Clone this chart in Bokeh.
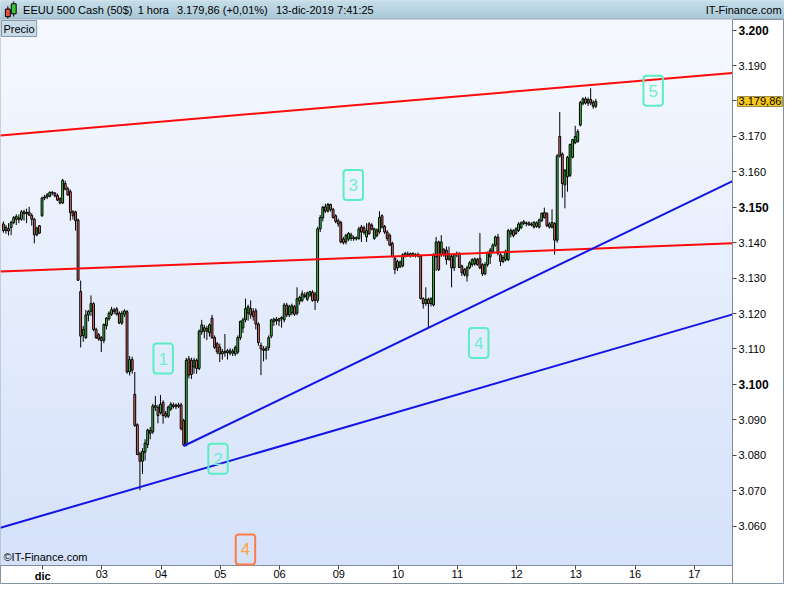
import numpy as np
from bokeh.plotting import figure
from bokeh.layouts import column
from bokeh.models import ColumnDataSource, Range1d, FixedTicker, Label, LinearAxis
from bokeh.embed import file_html
from bokeh.resources import INLINE
from bokeh.core.properties import value

# ---------------- data (hourly bars) ----------------
OPEN = [3145.3,3143.4,3144.0,3144.3,3145.7,3146.6,3147.0,3146.6,3148.7,3148.2,3148.6,3147.7,3146.6,3142.2,3144.8,
        3147.6,3152.6,3152.9,3153.1,3154.2,3154.0,3153.3,3152.4,3151.2,3156.7,3155.2,3154.4,3148.7,3148.7,3146.4,
        3126.2,3113.8,3113.2,3119.6,3120.6,3122.8,3115.5,3114.0,3113.2,3112.4,3116.6,3118.5,3119.8,3121.0,3121.3,
        3120.1,3117.3,3119.8,3120.5,3103.5,3107.0,3097.2,3088.6,3080.4,3078.3,3080.8,3083.0,3087.0,3086.6,3093.5,
        3093.5,3092.0,3094.9,3091.8,3091.0,3093.0,3094.2,3093.7,3094.2,3094.2,3089.8,3082.9,3107.2,3106.8,3104.9,
        3106.8,3104.5,3114.8,3116.0,3115.0,3114.6,3118.7,3113.2,3111.5,3110.5,3108.6,3109.3,3108.9,3109.5,3108.8,
        3108.6,3109.1,3113.2,3115.9,3118.2,3120.1,3121.4,3120.5,3120.8,3117.0,3111.0,3110.0,3109.6,3110.4,3113.6,
        3117.8,3118.4,3117.9,3118.5,3118.2,3122.4,3119.6,3120.2,3121.9,3120.1,3123.5,3123.7,3125.2,3124.0,3125.2,
        3126.0,3125.5,3123.7,3143.9,3147.0,3150.1,3148.9,3150.8,3149.4,3147.6,3146.2,3145.7,3141.0,3140.2,3141.0,
        3141.2,3141.4,3141.1,3141.2,3144.4,3144.2,3141.6,3145.3,3145.0,3141.2,3143.6,3143.0,3147.6,3144.6,3143.0,
        3142.1,3139.8,3135.6,3132.9,3134.5,3133.4,3136.1,3136.8,3136.4,3136.9,3136.3,3136.7,3136.2,3124.2,3122.8,
        3124.0,3122.8,3122.4,3136.0,3140.2,3136.6,3138.0,3137.9,3135.2,3136.1,3132.9,3136.6,3137.0,3133.4,3132.4,
        3130.6,3132.9,3133.8,3134.0,3135.2,3135.6,3133.8,3131.2,3133.8,3136.0,3137.5,3139.3,3141.6,3136.6,3134.7,
        3135.2,3135.2,3142.5,3143.4,3142.6,3143.4,3144.2,3145.9,3145.4,3145.6,3145.0,3144.4,3145.6,3144.4,3146.2,
        3148.5,3148.2,3145.3,3144.4,3145.4,3140.7,3170.0,3165.0,3156.3,3158.6,3159.0,3164.1,3168.2,3168.6,3173.2,
        3179.2,3180.6,3179.4,3180.4,3179.6,3178.5]
HIGH = [3146.0,3145.0,3145.5,3146.2,3147.5,3148.0,3148.0,3149.2,3149.3,3149.6,3150.1,3148.3,3147.0,3144.5,3145.0,
        3153.0,3153.5,3154.0,3154.5,3154.6,3154.3,3153.8,3152.8,3158.0,3157.5,3155.8,3155.0,3149.2,3149.0,3146.8,
        3129.3,3116.5,3121.0,3121.0,3125.1,3123.2,3116.0,3114.5,3113.6,3117.2,3119.0,3120.6,3121.9,3121.6,3121.8,
        3120.6,3120.8,3121.2,3121.0,3108.0,3107.8,3103.5,3089.0,3081.0,3082.0,3084.5,3087.5,3088.0,3094.5,3096.7,
        3094.2,3097.0,3095.5,3092.5,3094.0,3095.0,3094.8,3094.6,3094.8,3094.8,3090.3,3107.5,3108.0,3107.5,3107.5,
        3107.3,3115.5,3118.2,3116.8,3116.5,3117.2,3119.6,3113.8,3112.0,3111.5,3110.0,3114.2,3110.0,3110.2,3110.0,
        3111.0,3113.8,3118.0,3118.8,3124.2,3122.5,3123.7,3121.5,3121.5,3117.5,3111.8,3110.8,3110.8,3113.8,3118.5,
        3118.8,3119.0,3118.8,3119.2,3123.0,3123.0,3122.5,3122.8,3122.4,3127.4,3125.0,3126.5,3126.0,3126.2,3126.4,
        3126.6,3126.2,3144.5,3147.8,3150.4,3151.0,3151.2,3151.0,3149.8,3148.0,3146.8,3146.2,3141.6,3142.5,3143.0,
        3142.8,3142.0,3141.8,3144.5,3145.0,3144.8,3145.5,3145.8,3145.5,3144.2,3144.0,3148.9,3148.0,3145.0,3143.5,
        3142.6,3140.3,3136.2,3135.2,3135.0,3137.0,3137.4,3137.5,3137.2,3137.3,3137.0,3137.2,3136.6,3124.6,3127.4,
        3124.5,3124.6,3137.0,3141.6,3140.6,3142.1,3138.5,3138.9,3138.9,3136.6,3137.0,3137.5,3137.3,3133.8,3132.8,
        3133.5,3134.8,3135.6,3135.8,3135.7,3142.7,3134.2,3134.5,3137.5,3138.5,3139.8,3142.0,3142.5,3137.0,3136.5,
        3138.0,3143.9,3144.0,3143.8,3144.4,3145.8,3146.0,3146.4,3146.0,3146.0,3145.8,3146.0,3146.0,3146.8,3148.5,
        3149.9,3148.6,3145.8,3149.4,3145.8,3165.0,3176.9,3165.5,3160.8,3164.5,3168.0,3169.3,3173.0,3172.0,3180.0,
        3181.0,3181.2,3181.0,3183.6,3180.2,3180.6]
LOW = [3142.8,3142.5,3142.0,3142.1,3145.2,3145.0,3145.5,3146.2,3146.2,3145.5,3147.5,3144.8,3139.8,3141.8,3142.5,
       3147.3,3152.0,3152.3,3152.8,3153.4,3152.8,3151.8,3150.8,3150.9,3154.8,3153.2,3146.2,3146.5,3143.4,3129.2,
       3110.4,3112.0,3112.8,3117.8,3119.3,3115.0,3112.8,3112.3,3109.1,3111.6,3115.5,3118.0,3119.3,3119.8,3119.4,
       3117.0,3116.8,3119.0,3103.0,3102.5,3103.0,3088.0,3080.0,3070.1,3074.7,3078.5,3082.0,3084.5,3086.0,3092.5,
       3089.0,3091.5,3088.9,3090.5,3090.5,3092.5,3093.2,3093.0,3093.3,3087.0,3082.5,3082.5,3101.7,3101.5,3103.0,
       3103.0,3104.0,3114.0,3113.0,3112.5,3113.5,3112.8,3110.0,3108.5,3106.3,3107.0,3107.8,3107.0,3108.2,3108.0,
       3108.0,3108.5,3112.5,3114.5,3117.5,3118.0,3118.5,3118.0,3115.5,3110.9,3102.6,3106.5,3107.0,3109.5,3113.0,
       3116.5,3116.8,3116.5,3116.0,3117.5,3119.0,3119.0,3119.5,3119.3,3119.5,3122.5,3123.2,3124.3,3123.5,3124.6,
       3123.3,3121.0,3123.0,3143.0,3146.0,3148.4,3148.5,3148.8,3146.8,3145.5,3144.5,3139.8,3139.5,3139.5,3140.5,
       3140.5,3140.5,3140.6,3140.8,3140.2,3142.2,3140.2,3142.2,3143.5,3140.8,3141.5,3142.5,3144.0,3142.5,3140.5,
       3139.0,3135.8,3131.1,3132.0,3132.8,3133.0,3135.8,3136.0,3135.8,3136.0,3135.8,3135.9,3124.0,3121.4,3122.2,
       3115.9,3122.0,3122.0,3132.0,3132.0,3136.0,3136.0,3133.8,3135.0,3127.4,3132.0,3135.9,3132.8,3130.6,3130.5,
       3129.0,3132.5,3133.2,3133.5,3133.5,3132.5,3130.6,3130.8,3133.2,3134.0,3137.0,3138.8,3136.4,3133.4,3134.2,
       3134.7,3134.8,3141.5,3141.5,3142.2,3143.0,3143.8,3145.0,3144.6,3144.8,3144.6,3144.0,3144.2,3144.0,3145.8,
       3146.8,3144.4,3144.0,3144.0,3136.6,3140.0,3164.0,3152.7,3149.7,3154.4,3158.5,3163.8,3167.8,3168.2,3172.8,
       3178.8,3179.0,3178.6,3178.8,3177.8,3178.0]
CLOSE = [3143.4,3144.3,3143.3,3145.7,3147.1,3147.4,3146.5,3148.7,3148.2,3148.6,3147.8,3146.6,3142.2,3144.1,3142.7,
         3152.6,3152.9,3153.5,3154.2,3154.0,3153.2,3152.0,3151.2,3157.6,3155.1,3153.5,3148.5,3147.6,3146.2,3129.4,
         3113.6,3115.5,3119.6,3120.6,3122.8,3115.5,3113.2,3112.8,3112.4,3116.9,3118.7,3120.1,3121.1,3120.6,3119.8,
         3117.3,3120.1,3120.7,3103.5,3107.0,3104.0,3088.4,3080.2,3078.3,3081.1,3083.4,3087.1,3086.2,3093.9,3094.0,
         3091.2,3094.4,3091.2,3091.0,3093.6,3094.4,3093.7,3094.2,3093.8,3087.5,3082.9,3106.8,3102.6,3102.8,3106.8,
         3104.5,3115.0,3116.8,3115.0,3115.8,3116.8,3113.2,3110.4,3109.2,3108.6,3109.3,3108.9,3109.5,3108.8,3109.4,
         3110.4,3113.2,3117.8,3118.2,3121.4,3121.9,3119.6,3119.2,3117.0,3111.8,3110.0,3109.6,3110.2,3113.2,3118.2,
         3118.4,3117.9,3118.5,3118.9,3122.4,3119.6,3122.0,3122.2,3119.8,3124.2,3124.5,3125.6,3124.8,3125.8,3126.2,
         3123.7,3123.7,3143.9,3147.1,3150.0,3148.9,3150.8,3149.4,3147.1,3146.0,3145.3,3140.2,3140.0,3142.1,3142.6,
         3142.2,3141.1,3141.4,3143.9,3143.0,3142.9,3143.4,3142.5,3143.8,3143.9,3142.0,3147.1,3144.4,3143.0,3141.2,
         3139.3,3136.1,3132.4,3134.7,3133.2,3136.6,3137.0,3136.4,3136.9,3136.3,3136.7,3136.2,3124.2,3122.8,3124.0,
         3122.8,3124.2,3136.6,3140.2,3132.4,3140.2,3136.6,3135.2,3136.8,3132.9,3136.6,3137.0,3133.0,3131.5,3131.0,
         3132.9,3134.3,3135.2,3135.4,3133.8,3132.9,3131.2,3133.8,3137.0,3137.8,3139.3,3141.6,3137.0,3134.7,3135.8,
         3137.6,3143.4,3143.4,3142.0,3143.9,3145.3,3145.6,3145.4,3145.6,3145.0,3145.3,3145.8,3144.6,3146.4,3148.3,
         3147.1,3144.8,3144.4,3145.7,3140.7,3164.5,3164.5,3156.7,3160.4,3164.1,3167.7,3169.1,3170.0,3171.4,3179.6,
         3180.6,3179.4,3180.4,3179.4,3178.5,3179.86]

BARS_PER_DAY = 23
FIRST_BAR_DAY = -0.662          # first bar (29 Nov session), in trading days from 2 Dec

DAY_TICKS = [0, 1, 2, 3, 4, 5, 6, 7, 8, 9, 10, 11]
DAY_LABELS = ["dic", "03", "04", "05", "06", "09", "10", "11", "12", "13", "16", "17"]
PRICE_TICKS = [3060, 3070, 3080, 3090, 3100, 3110, 3120, 3130, 3140, 3150, 3160, 3170, 3180, 3190, 3200]
BOLD_PRICES = [3100, 3150, 3200]
LAST_PRICE = 3179.86
LAST_PRICE_TEXT = "3.179,86"

# trend lines: two anchor points (trading day, price) each
RED_UPPER = [(0.0, 3171.3), (11.0, 3187.0)]
RED_LOWER = [(0.0, 3132.3), (11.0, 3139.4)]
BLUE_LOWER = [(0.0, 3063.0), (11.0, 3116.6)]
BLUE_UPPER_DAYS = [2.38, 11.646]
BLUE_UPPER_PRICES = [3082.6, 3157.4]

# wave labels
WAVE_TEXT = ["1", "2", "3", "4", "5", "4"]
WAVE_DAY = [2.035, 2.961, 5.244, 7.361, 10.306, 3.424]
WAVE_PRICE = [3107.3, 3079.0, 3156.3, 3111.7, 3182.9, 3053.4]
WAVE_KIND = ["a", "a", "a", "a", "a", "o"]

# chart area (price pane) and whole canvas extents
X_START, X_END = -0.711, 11.646
Y_START, Y_END = 3049.0, 3203.0
CANVAS_X_END = 12.523
CANVAS_Y_START = 3043.5

SANS = "Liberation Sans"


def thousands(v):
    v = int(round(v))
    return f"{v // 1000}.{v % 1000:03d}"


W = 784
# ---------------- header bar ----------------
head = figure(width=W, height=19, x_range=Range1d(0, 800), y_range=Range1d(20, 0),
              output_backend="svg", toolbar_location=None, min_border=0,
              x_axis_location=None, y_axis_location=None)
head.outline_line_color = None
head.grid.visible = False
head.background_fill_color = "#b5d1df"
head.border_fill_color = "#b5d1df"
hb = np.linspace(0, 20, 11)
hc = []
for k in range(10):
    t = k / 9.0
    r = int(198 + (170 - 198) * t); g = int(222 + (200 - 222) * t); b = int(232 + (216 - 232) * t)
    hc.append(f"#{r:02x}{g:02x}{b:02x}")
head.quad(left=0, right=800, top=hb[:-1], bottom=hb[1:], fill_color=hc, line_color=hc)
head.segment(x0=[0], y0=[19.6], x1=[800], y1=[19.6], line_color="#8aa3b3", line_width=1)
# small candle icon
head.segment(x0=[7.5, 13.5], y0=[6, 1], x1=[7.5, 13.5], y1=[19, 17], line_color="black", line_width=1)
head.quad(left=[5, 11], right=[10, 16], top=[9, 3.5], bottom=[17, 14],
          fill_color=["#e0504a", "#3cc43c"], line_color="black", line_width=1)
head.text(x=[23, 140, 180, 281], y=[10.5] * 4,
          text=["EEUU 500 Cash (50$)", "1 hora", "3.179,86 (+0,01%)", "13-dic-2019 7:41:25"],
          text_font=value(SANS), text_font_size="11px", text_baseline="middle", text_color="black")
head.text(x=[797], y=[10.5], text=["IT-Finance.com"], text_font=value(SANS),
          text_font_size="11px", text_baseline="middle", text_align="right", text_color="black")

# ---------------- main chart (frame covers the whole canvas; axes drawn at fixed locations) ----------------
p = figure(width=W, height=565, x_range=Range1d(X_START, CANVAS_X_END), y_range=Range1d(CANVAS_Y_START, Y_END),
           output_backend="svg", toolbar_location=None, x_axis_location=None, y_axis_location=None,
           min_border=0)
p.outline_line_color = "#8393a3"
p.background_fill_color = "white"
p.border_fill_color = "white"
p.grid.visible = False

# vertical gradient background of the price pane
n = 60
edges = np.linspace(Y_START, Y_END, n + 1)
cols = []
for k in range(n):
    t = (k + 0.5) / n
    r = int(214 + (246 - 214) * t); g = int(226 + (249 - 226) * t); b = int(250 + (255 - 250) * t)
    cols.append(f"#{r:02x}{g:02x}{b:02x}")
p.quad(left=X_START, right=X_END, bottom=edges[:-1], top=edges[1:], fill_color=cols, line_color=cols, line_width=1)

o = np.array(OPEN); h = np.array(HIGH); l = np.array(LOW); c = np.array(CLOSE)
x = FIRST_BAR_DAY + np.arange(len(o)) / BARS_PER_DAY
colr = np.where(c >= o, "#3fcd3f", "#e46f6b")
src = ColumnDataSource(dict(x=x, h=h, l=l, top=np.maximum(o, c), bot=np.minimum(o, c), col=colr))
p.segment(x0="x", y0="h", x1="x", y1="l", source=src, line_color="black", line_width=1)
p.vbar(x="x", width=0.72 / BARS_PER_DAY, top="top", bottom="bot", fill_color="col",
       line_color="black", line_width=1, source=src)


def extend(pts):
    (x0, y0), (x1, y1) = pts
    g = (y1 - y0) / (x1 - x0)
    return [X_START, X_END], [y0 + g * (X_START - x0), y0 + g * (X_END - x0)]


for pts, lc in [(RED_UPPER, "#ff0a0a"), (RED_LOWER, "#ff0a0a"), (BLUE_LOWER, "#1414e6")]:
    xs, ys = extend(pts)
    p.line(xs, ys, line_color=lc, line_width=2)
p.line(BLUE_UPPER_DAYS, BLUE_UPPER_PRICES, line_color="#1414e6", line_width=2)

# wave labels
for t_, d_, pr_, k_ in zip(WAVE_TEXT, WAVE_DAY, WAVE_PRICE, WAVE_KIND):
    tc, bc = ("#6cf0cf", "#5ceec2") if k_ == "a" else ("#ffa53a", "#ff7a48")
    p.add_layout(Label(x=d_, y=pr_, text=t_, text_align="center", text_baseline="middle",
                       text_color=tc, text_font=SANS, text_font_size="17px",
                       border_line_color=bc, border_line_width=2, border_radius=3,
                       padding=dict(left=5, right=5, top=9, bottom=9), background_fill_color=None))

# price axis (right edge of the pane)
ax = LinearAxis(fixed_location=X_END, ticker=FixedTicker(ticks=PRICE_TICKS))
ax.major_label_overrides = {t: ("" if t in BOLD_PRICES else thousands(t)) for t in PRICE_TICKS}
ax.minor_tick_line_color = None
ax.major_tick_out = 4
ax.major_tick_in = 0
ax.major_label_standoff = 2
ax.axis_line_color = "#7f8e9c"
ax.major_tick_line_color = "#444444"
ax.major_label_text_font = SANS
ax.major_label_text_font_size = "11px"
ax.major_label_text_color = "black"
p.add_layout(ax, "right")

# time axis (bottom edge of the pane)
bx = LinearAxis(fixed_location=Y_START, bounds=(X_START, X_END), ticker=FixedTicker(ticks=DAY_TICKS))
bx.major_label_overrides = {t: ("" if i == 0 else lab) for i, (t, lab) in enumerate(zip(DAY_TICKS, DAY_LABELS))}
bx.minor_tick_line_color = None
bx.major_tick_out = 4
bx.major_tick_in = 0
bx.major_label_standoff = 1
bx.axis_line_color = "#7f8e9c"
bx.major_tick_line_color = "#444444"
bx.major_label_text_font = SANS
bx.major_label_text_font_size = "11px"
bx.major_label_text_color = "black"
p.add_layout(bx, "below")

for t in BOLD_PRICES:
    p.add_layout(Label(x=X_END, y=t, x_offset=6, text=thousands(t), text_align="left",
                       text_baseline="middle", text_font=SANS, text_font_size="12px",
                       text_font_style="bold", text_color="black"))
p.add_layout(Label(x=DAY_TICKS[0], y=Y_START, y_offset=-5, text=DAY_LABELS[0], text_align="center",
                   text_baseline="top", text_font=SANS, text_font_size="11px",
                   text_font_style="bold", text_color="black"))
p.add_layout(Label(x=X_END, y=LAST_PRICE, x_offset=5, text=LAST_PRICE_TEXT, text_align="left",
                   text_baseline="middle", text_font=SANS, text_font_size="11px", text_color="black",
                   background_fill_color="#f8c81e", border_line_color="#9a8a4a", padding=1))
p.add_layout(Label(x=X_START, y=Y_END, x_offset=1, y_offset=-1, text="Precio", text_align="left",
                   text_baseline="top", text_font=SANS, text_font_size="11px", text_color="black",
                   background_fill_color="#c9dbe8", border_line_color="#8a9aa8", padding=2))
p.add_layout(Label(x=X_START, y=Y_START, x_offset=3, y_offset=2, text="©IT-Finance.com", text_align="left",
                   text_baseline="bottom", text_font=SANS, text_font_size="11px", text_color="black"))

layout = column(head, p, spacing=0)
open("out.html", "w").write(file_html(layout, INLINE, title="EEUU 500 Cash"))
